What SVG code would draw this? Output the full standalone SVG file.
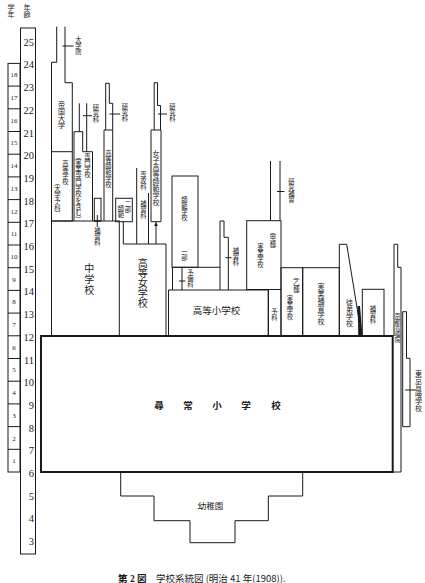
<svg xmlns="http://www.w3.org/2000/svg" width="425" height="583" viewBox="0 0 425 583">
<style>
.l{fill:none;stroke:#1a1a1a;stroke-width:1}
.b{fill:none;stroke:#1a1a1a;stroke-width:2}
.j{font-family:"Noto Sans CJK JP","Noto Sans CJK SC",sans-serif;fill:#1a1a1a}
.v{writing-mode:vertical-rl;text-orientation:upright}
.s7{font-size:7px}
.s6{font-size:6.3px}
.s10{font-size:10px}
.n{font-family:"Liberation Serif",serif;fill:#1a1a1a}
.age{font-size:10.5px;text-anchor:end}
.gr{font-size:7px;text-anchor:middle}
.big{font-size:9.5px;font-weight:bold;text-anchor:middle}
</style>
<rect width="425" height="583" fill="#fff"/>

<g id="header">
<text class="j v s7" x="11" y="4">学年</text>
<text class="j v s7" x="27" y="4">年齢</text>
</g>

<g id="scale">
<rect class="l" x="20.5" y="28" width="15" height="526"/>
<rect class="l" x="8" y="63.4" width="12" height="408.6"/>
<path class="l" d="M8,86.1H20M8,108.8H20M8,131.5H20M8,154.2H20M8,176.9H20M8,199.6H20M8,222.3H20M8,245H20M8,267.7H20M8,290.4H20M8,313.1H20M8,335.8H20M8,358.5H20M8,381.2H20M8,403.9H20M8,426.6H20M8,449.3H20"/>
<g class="n age">
<text x="34" y="45.7">25</text><text x="34" y="68.4">24</text><text x="34" y="91.1">23</text><text x="34" y="113.8">22</text><text x="34" y="136.5">21</text><text x="34" y="159.2">20</text><text x="34" y="181.9">19</text><text x="34" y="204.6">18</text><text x="34" y="227.3">17</text><text x="34" y="250">16</text><text x="34" y="272.7">15</text><text x="34" y="295.4">14</text><text x="34" y="318.1">13</text><text x="34" y="340.8">12</text><text x="34" y="363.5">11</text><text x="34" y="386.2">10</text><text x="34" y="408.9">9</text><text x="34" y="431.6">8</text><text x="34" y="454.3">7</text><text x="34" y="477">6</text><text x="34" y="499.7">5</text><text x="34" y="522.4">4</text><text x="34" y="545.1">3</text>
</g>
<g class="n gr">
<text x="14" y="463.2">1</text><text x="14" y="440.5">2</text><text x="14" y="417.8">3</text><text x="14" y="395.1">4</text><text x="14" y="372.4">5</text><text x="14" y="349.7">6</text><text x="14" y="327">7</text><text x="14" y="304.3">8</text><text x="14" y="281.6">9</text><text x="14" y="258.9">10</text><text x="14" y="236.2">11</text><text x="14" y="213.5">12</text><text x="14" y="190.8">13</text><text x="14" y="168.1">14</text><text x="14" y="145.4">15</text><text x="14" y="122.7">16</text><text x="14" y="100">17</text><text x="14" y="77.3">18</text>
</g>
</g>

<g id="daigakuin">
<text class="j v s6" x="78.5" y="36">大学院</text>
</g>
<g id="teikoku-daigaku">
<path class="l" d="M51.5,151.7V62.3H56.7V26.7M65,26.7V82.7H72.3V151.7"/>
<text class="j v s7" x="61.5" y="101">帝国大学</text>
</g>
<g id="koto-gakko">
<rect class="l" x="51.5" y="151.7" width="20.8" height="69.3"/>
<text class="j v s6" x="65.5" y="160">高等学校</text>
<text class="j v s6" x="57.5" y="179">（大学予科）</text>
</g>
<g id="senmon-gakko">
<path class="l" d="M74,221V131.7H82.7V151.7H92.5V221M79.3,103.3V131.7M86.7,103.3V151.7"/>
<text class="j v s6" x="87.5" y="153">専門学校</text>
<text class="j v s6" x="78.3" y="153">（実業専門学校を含む）</text>
<text class="j v s6" x="96" y="104">研究科</text>
</g>
<g id="chu-hoshuka">
<rect class="l" x="94.3" y="198.3" width="6.7" height="22.7"/>
<text class="j v s6" x="97.5" y="227">補習科</text>
</g>
<g id="koto-shihan">
<path class="l" d="M104,221V130H112.7V221M105.7,130V83.3H109.3V103.3H112.7V130"/>
<text class="j v s6" x="108.4" y="150">高等師範学校</text>
<text class="j v s6" x="125" y="103">研究科</text>
</g>
<g id="nibu-shihan">
<rect class="l" x="115.7" y="198.3" width="16.6" height="23.4"/>
<path class="l" d="M123.3,221.7V244"/>
<text class="j v s6" x="128" y="200">二部</text>
<text class="j v s6" x="121" y="205">師範</text>
</g>
<g id="chugakko">
<rect class="l" x="51.5" y="221" width="67.8" height="115"/>
<text class="j v s10" x="89.3" y="263" letter-spacing="1">中学校</text>
</g>
<g id="senkoka">
<path class="l" d="M136.7,168V244M148.5,193V244"/>
<text class="j v s6" x="143.5" y="171">専攻科</text>
<text class="j v s6" x="143.5" y="200">補習科</text>
</g>
<g id="joshi-koto-shihan">
<path class="l" d="M151,221.7V130H161V221.7ZM154.2,130V82.7H157.5V105.5H160.5V130"/>
<text class="j v s7" x="156" y="150">女子高等師範学校</text>
<text class="j v s6" x="172.5" y="103">研究科</text>
</g>
<g id="koto-jogakko">
<path class="l" d="M123.3,244H166V336"/>
<text class="j v s10" x="142.7" y="258">高等女学校</text>
</g>
<g id="shihan-gakko">
<rect class="l" x="172" y="176" width="26" height="91.3"/>
<text class="j v s6" x="184.5" y="196">師範学校</text>
<text class="j v s6" x="184.5" y="248">一部</text>
</g>
<g id="yobika">
<path class="l" d="M172.5,290V267.3H220"/>
<text class="j v s6" x="190.5" y="269">予備科</text>
</g>
<g id="koto-sho-hoshuka">
<path class="l" d="M220,290V221H224V237.3H228.3V290"/>
<text class="j v s6" x="236" y="247">補習科</text>
</g>
<g id="koto-shogakko">
<path class="l" d="M168.5,336V290H268.3V336"/>
<text class="j" x="216.5" y="313.5" text-anchor="middle" font-size="9.5">高等小学校</text>
</g>
<g id="jitsugyo-ko">
<rect class="l" x="246.7" y="220.7" width="34.3" height="68.8"/>
<path class="l" d="M270.5,161V220.7M280,161V220.7"/>
<text class="j v s6" x="273" y="228">（甲種）</text>
<text class="j v s6" x="260.5" y="243">実業学校</text>
<text class="j v s6" x="291.5" y="178">研究補習</text>
</g>
<g id="jitsugyo-yoka">
<rect class="l" x="268.3" y="289.5" width="12.7" height="46.5"/>
<text class="j v s6" x="274.5" y="308">予科</text>
</g>
<g id="jitsugyo-otsu">
<rect class="l" x="281" y="267.7" width="21.7" height="68.3"/>
<text class="j v s6" x="296.5" y="273">（乙種）</text>
<text class="j v s6" x="290" y="295">実業学校</text>
</g>
<g id="jitsugyo-hoshu">
<rect class="l" x="302.7" y="267.7" width="36.6" height="68.3"/>
<text class="j v s7" x="321" y="283">実業補習学校</text>
</g>
<g id="totei-gakko">
<path class="l" d="M339.3,336V244.3H346.7L359,320V336"/>
<polygon points="357.5,306 360,306 362.5,336 358.5,336" fill="#1a1a1a"/>
<text class="j v s7" x="349.5" y="299">徒弟学校</text>
</g>
<g id="hoshuka-r">
<rect class="l" x="362.3" y="289.3" width="21.7" height="46.7"/>
<text class="j v s6" x="373" y="305">補習科</text>
</g>
<g id="jinjo-shogakko">
<rect class="b" x="41" y="336" width="351.7" height="136"/>
<text class="j big" x="159" y="409">尋</text>
<text class="j big" x="188" y="409">常</text>
<text class="j big" x="217" y="409">小</text>
<text class="j big" x="246" y="409">学</text>
<text class="j big" x="276" y="409">校</text>
</g>
<g id="kyoto-moain">
<path class="l" d="M394,336V244.3H397.7V267.3H401V472H393"/>
<text class="j v" x="397.5" y="313" font-size="6">京都盲唖院</text>
</g>
<g id="tokyo-moa">
<path class="l" d="M402.7,311.7V426.7H410V358.3H406.5V311.7Z"/>
<text class="j v s7" x="418.5" y="370">東京盲唖学校</text>
</g>
<g id="yochien">
<path class="l" d="M120.7,472V496H154V520.7H190V542.7H235V520.7H268.3V496H302.7V472"/>
<text class="j" x="210.5" y="508.5" font-size="8.5" text-anchor="middle">幼稚園</text>
</g>

<g id="connectors">
<path class="l" d="M62.5,46H73.5M83,115.7H92M109.5,114H120M158,114H167M277,191.5H284.5M225.5,257.7H231.5M179,281H185.5M182,267.3V290M97.3,215V227M94.5,221H100M405,390H416M156,244V224"/>
<polygon points="156,221.5 154.2,226 157.8,226" fill="#1a1a1a"/>
</g>

<g id="caption">
<text class="j" x="118" y="581.5" font-size="9.5"><tspan font-weight="bold">第</tspan><tspan font-family="Liberation Serif" font-weight="bold"> 2 </tspan><tspan font-weight="bold">図</tspan>　学校系統図 (明治 41 年(1908)).</text>
</g>
</svg>
